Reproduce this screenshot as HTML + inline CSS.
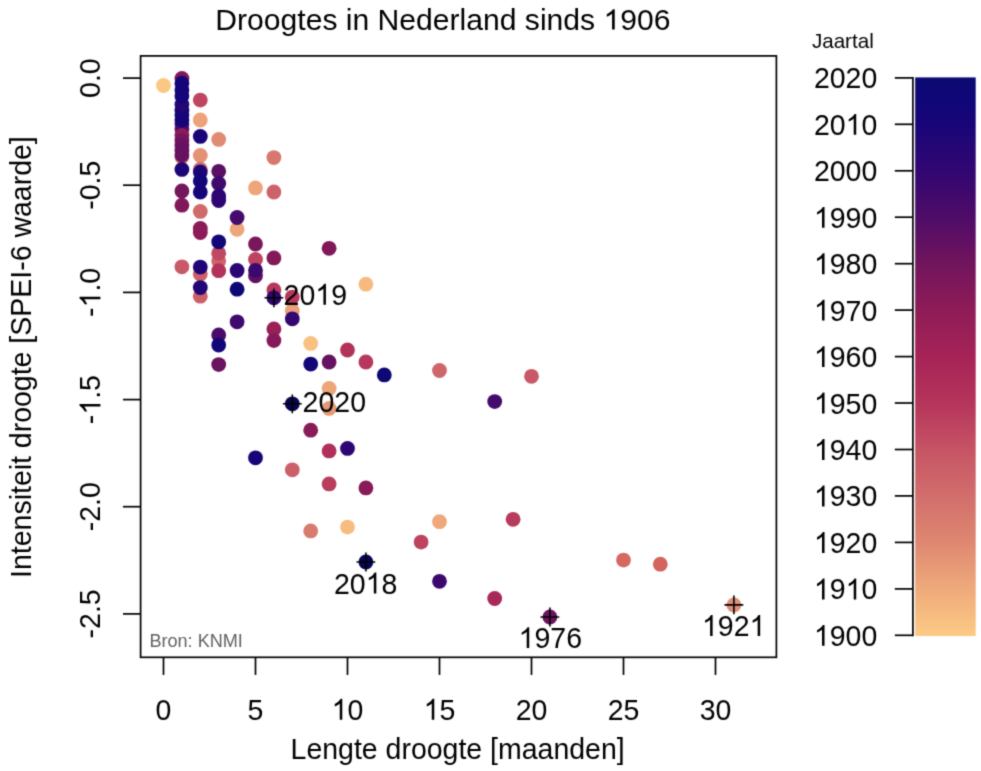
<!DOCTYPE html>
<html><head><meta charset="utf-8"><title>Droogtes in Nederland sinds 1906</title>
<style>html,body{margin:0;padding:0;background:#fff}body{width:981px;height:771px;overflow:hidden;font-family:"Liberation Sans",sans-serif}</style></head>
<body>
<svg width="981" height="771" viewBox="0 0 981 771" style="display:block">
<defs><filter id="soft" x="0" y="0" width="981" height="771" filterUnits="userSpaceOnUse" color-interpolation-filters="sRGB"><feConvolveMatrix order="3" kernelMatrix="0.02560 0.10880 0.02560 0.10880 0.46240 0.10880 0.02560 0.10880 0.02560" edgeMode="duplicate" preserveAlpha="true"/></filter></defs>
<g filter="url(#soft)">
<rect width="981" height="771" fill="#fff"/>
<g font-family="Liberation Sans, sans-serif" fill="#000">
<g transform="translate(442.9 29.6) scale(1 0.96)"><text x="-227.57" font-size="30.1">Droogtes in Nederland sinds</text><g transform="translate(160.60 0)"><path transform="translate(0.00 0) scale(0.01470 -0.01448)" d="M763 0H583V1147Q518 1085 412.5 1023Q307 961 223 930V1104Q374 1175 487 1276Q600 1377 647 1472H763Z"/><text x="16.74" font-size="30.1">906</text></g></g>
<g>
<circle cx="163.5" cy="85.5" r="7.4" fill="#fcc783"/>
<circle cx="181.9" cy="78.5" r="7.4" fill="#80185a"/>
<circle cx="181.9" cy="129.0" r="7.4" fill="#601062"/>
<circle cx="181.9" cy="124.0" r="7.4" fill="#460a6b"/>
<circle cx="181.9" cy="120.0" r="7.4" fill="#150578"/>
<circle cx="181.9" cy="115.0" r="7.4" fill="#150578"/>
<circle cx="181.9" cy="110.5" r="7.4" fill="#180578"/>
<circle cx="181.9" cy="104.5" r="7.4" fill="#250675"/>
<circle cx="181.9" cy="83.2" r="7.4" fill="#150578"/>
<circle cx="181.9" cy="90.0" r="7.4" fill="#120678"/>
<circle cx="181.9" cy="96.0" r="7.4" fill="#150578"/>
<circle cx="181.9" cy="157.0" r="7.4" fill="#da7e6f"/>
<circle cx="181.9" cy="135.5" r="7.4" fill="#8c1b58"/>
<circle cx="181.9" cy="140.5" r="7.4" fill="#77165c"/>
<circle cx="181.9" cy="145.5" r="7.4" fill="#6a135f"/>
<circle cx="181.9" cy="150.5" r="7.4" fill="#661260"/>
<circle cx="181.9" cy="155.0" r="7.4" fill="#661260"/>
<circle cx="181.9" cy="169.4" r="7.4" fill="#1c0577"/>
<circle cx="181.9" cy="191.0" r="7.4" fill="#74165c"/>
<circle cx="181.9" cy="205.2" r="7.4" fill="#80185a"/>
<circle cx="181.9" cy="266.8" r="7.4" fill="#c85966"/>
<circle cx="200.3" cy="100.1" r="7.4" fill="#be4660"/>
<circle cx="200.3" cy="120.0" r="7.4" fill="#eca379"/>
<circle cx="200.3" cy="136.4" r="7.4" fill="#190578"/>
<circle cx="200.3" cy="155.5" r="7.4" fill="#e49274"/>
<circle cx="200.3" cy="169.2" r="7.4" fill="#d3716c"/>
<circle cx="200.3" cy="172.0" r="7.4" fill="#1e0576"/>
<circle cx="200.3" cy="181.0" r="7.4" fill="#130678"/>
<circle cx="200.3" cy="192.0" r="7.4" fill="#160578"/>
<circle cx="200.3" cy="211.4" r="7.4" fill="#d06a6b"/>
<circle cx="200.3" cy="228.4" r="7.4" fill="#891b58"/>
<circle cx="200.3" cy="232.6" r="7.4" fill="#8c1b58"/>
<circle cx="200.3" cy="274.0" r="7.4" fill="#cb6068"/>
<circle cx="200.3" cy="267.1" r="7.4" fill="#210576"/>
<circle cx="200.3" cy="296.2" r="7.4" fill="#cb6068"/>
<circle cx="200.3" cy="287.6" r="7.4" fill="#220576"/>
<circle cx="218.7" cy="139.4" r="7.4" fill="#e18b72"/>
<circle cx="218.7" cy="171.3" r="7.4" fill="#5a0f64"/>
<circle cx="218.7" cy="183.4" r="7.4" fill="#3f096e"/>
<circle cx="218.7" cy="196.0" r="7.4" fill="#290674"/>
<circle cx="218.7" cy="200.6" r="7.4" fill="#2e0673"/>
<circle cx="218.7" cy="261.0" r="7.4" fill="#ce6569"/>
<circle cx="218.7" cy="270.7" r="7.4" fill="#b3325a"/>
<circle cx="218.7" cy="253.2" r="7.4" fill="#c04961"/>
<circle cx="218.7" cy="241.8" r="7.4" fill="#130678"/>
<circle cx="218.7" cy="335.0" r="7.4" fill="#4a0b6a"/>
<circle cx="218.7" cy="345.1" r="7.4" fill="#130678"/>
<circle cx="218.7" cy="364.6" r="7.4" fill="#6a135f"/>
<circle cx="237.1" cy="229.3" r="7.4" fill="#eda57a"/>
<circle cx="237.1" cy="217.5" r="7.4" fill="#440a6c"/>
<circle cx="237.1" cy="270.5" r="7.4" fill="#290674"/>
<circle cx="237.1" cy="289.2" r="7.4" fill="#0e0875"/>
<circle cx="237.1" cy="321.8" r="7.4" fill="#3f096e"/>
<circle cx="255.5" cy="187.9" r="7.4" fill="#eda57a"/>
<circle cx="255.5" cy="244.0" r="7.4" fill="#7a175b"/>
<circle cx="255.5" cy="259.4" r="7.4" fill="#bd435f"/>
<circle cx="255.5" cy="275.8" r="7.4" fill="#601062"/>
<circle cx="255.5" cy="270.3" r="7.4" fill="#3a086f"/>
<circle cx="255.5" cy="457.8" r="7.4" fill="#160578"/>
<circle cx="273.9" cy="157.6" r="7.4" fill="#d7786e"/>
<circle cx="273.9" cy="192.0" r="7.4" fill="#cd6268"/>
<circle cx="273.9" cy="257.9" r="7.4" fill="#831959"/>
<circle cx="273.9" cy="290.0" r="7.4" fill="#b7385c"/>
<circle cx="273.9" cy="297.8" r="7.4" fill="#2d0668"/>
<circle cx="273.9" cy="328.9" r="7.4" fill="#981f57"/>
<circle cx="273.9" cy="340.6" r="7.4" fill="#861a59"/>
<circle cx="292.3" cy="297.1" r="7.4" fill="#b7385c"/>
<circle cx="292.3" cy="310.8" r="7.4" fill="#eaa078"/>
<circle cx="292.3" cy="318.8" r="7.4" fill="#350771"/>
<circle cx="292.3" cy="403.8" r="7.4" fill="#070453"/>
<circle cx="292.3" cy="469.8" r="7.4" fill="#cb6068"/>
<circle cx="310.7" cy="343.4" r="7.4" fill="#f9c081"/>
<circle cx="310.7" cy="364.1" r="7.4" fill="#130678"/>
<circle cx="310.7" cy="430.2" r="7.4" fill="#891b58"/>
<circle cx="310.7" cy="530.9" r="7.4" fill="#d87b6e"/>
<circle cx="329.1" cy="248.3" r="7.4" fill="#80185a"/>
<circle cx="329.1" cy="362.0" r="7.4" fill="#661260"/>
<circle cx="329.1" cy="388.4" r="7.4" fill="#eda57a"/>
<circle cx="329.1" cy="408.4" r="7.4" fill="#e79976"/>
<circle cx="329.1" cy="450.9" r="7.4" fill="#b0305a"/>
<circle cx="329.1" cy="483.9" r="7.4" fill="#b93d5d"/>
<circle cx="347.5" cy="350.0" r="7.4" fill="#b3325a"/>
<circle cx="347.5" cy="448.4" r="7.4" fill="#2e0673"/>
<circle cx="347.5" cy="527.1" r="7.4" fill="#f7bd80"/>
<circle cx="365.9" cy="284.2" r="7.4" fill="#f6ba80"/>
<circle cx="365.9" cy="362.0" r="7.4" fill="#b7385c"/>
<circle cx="365.9" cy="487.9" r="7.4" fill="#891b58"/>
<circle cx="365.9" cy="562.0" r="7.4" fill="#070553"/>
<circle cx="384.3" cy="374.9" r="7.4" fill="#0e0875"/>
<circle cx="421.1" cy="542.1" r="7.4" fill="#bd435f"/>
<circle cx="439.5" cy="370.5" r="7.4" fill="#ce6569"/>
<circle cx="439.5" cy="521.7" r="7.4" fill="#eea87a"/>
<circle cx="439.5" cy="581.3" r="7.4" fill="#3d086e"/>
<circle cx="494.7" cy="401.6" r="7.4" fill="#440a6c"/>
<circle cx="494.7" cy="598.5" r="7.4" fill="#aa2858"/>
<circle cx="513.1" cy="519.3" r="7.4" fill="#b83a5c"/>
<circle cx="531.5" cy="376.3" r="7.4" fill="#c85966"/>
<circle cx="549.9" cy="617.0" r="7.4" fill="#6c145f"/>
<circle cx="623.5" cy="560.1" r="7.4" fill="#d5695f"/>
<circle cx="660.3" cy="564.2" r="7.4" fill="#d3645e"/>
<circle cx="733.9" cy="604.9" r="7.4" fill="#dd9079"/>
</g>
<rect x="140.6" y="55.9" width="635.8" height="601.4" fill="none" stroke="#000" stroke-width="1.7"/>
<g stroke="#000" stroke-width="1.7" fill="none">
<path d="M163.5 657.3V674.9"/>
<path d="M255.5 657.3V674.9"/>
<path d="M347.5 657.3V674.9"/>
<path d="M439.5 657.3V674.9"/>
<path d="M531.5 657.3V674.9"/>
<path d="M623.5 657.3V674.9"/>
<path d="M715.5 657.3V674.9"/>
<path d="M140.6 78.1H123.0"/>
<path d="M140.6 185.2H123.0"/>
<path d="M140.6 292.4H123.0"/>
<path d="M140.6 399.6H123.0"/>
<path d="M140.6 506.7H123.0"/>
<path d="M140.6 613.9H123.0"/>
</g>
<g transform="translate(163.5 719.7) scale(1 1.035)"><text x="-7.93" font-size="28.5">0</text></g>
<g transform="translate(255.5 719.7) scale(1 1.035)"><text x="-7.93" font-size="28.5">5</text></g>
<g transform="translate(347.5 719.7) scale(1 1.035)"><path transform="translate(-15.85 0) scale(0.01392 -0.01371)" d="M763 0H583V1147Q518 1085 412.5 1023Q307 961 223 930V1104Q374 1175 487 1276Q600 1377 647 1472H763Z"/><text x="0.00" font-size="28.5">0</text></g>
<g transform="translate(439.5 719.7) scale(1 1.035)"><path transform="translate(-15.85 0) scale(0.01392 -0.01371)" d="M763 0H583V1147Q518 1085 412.5 1023Q307 961 223 930V1104Q374 1175 487 1276Q600 1377 647 1472H763Z"/><text x="0.00" font-size="28.5">5</text></g>
<g transform="translate(531.5 719.7) scale(1 1.035)"><text x="-15.85" font-size="28.5">20</text></g>
<g transform="translate(623.5 719.7) scale(1 1.035)"><text x="-15.85" font-size="28.5">25</text></g>
<g transform="translate(715.5 719.7) scale(1 1.035)"><text x="-15.85" font-size="28.5">30</text></g>
<g transform="translate(100.4 78.1) rotate(-90) scale(1 1.035)"><text x="-19.81" font-size="28.5">0.0</text></g>
<g transform="translate(100.4 185.2) rotate(-90) scale(1 1.035)"><text x="-24.55" font-size="28.5">-0.5</text></g>
<g transform="translate(100.4 292.4) rotate(-90) scale(1 1.035)"><text x="-24.55" font-size="28.5">-</text><path transform="translate(-15.06 0) scale(0.01392 -0.01371)" d="M763 0H583V1147Q518 1085 412.5 1023Q307 961 223 930V1104Q374 1175 487 1276Q600 1377 647 1472H763Z"/><text x="0.79" font-size="28.5">.0</text></g>
<g transform="translate(100.4 399.6) rotate(-90) scale(1 1.035)"><text x="-24.55" font-size="28.5">-</text><path transform="translate(-15.06 0) scale(0.01392 -0.01371)" d="M763 0H583V1147Q518 1085 412.5 1023Q307 961 223 930V1104Q374 1175 487 1276Q600 1377 647 1472H763Z"/><text x="0.79" font-size="28.5">.5</text></g>
<g transform="translate(100.4 506.7) rotate(-90) scale(1 1.035)"><text x="-24.55" font-size="28.5">-2.0</text></g>
<g transform="translate(100.4 613.9) rotate(-90) scale(1 1.035)"><text x="-24.55" font-size="28.5">-2.5</text></g>
<text transform="translate(457.6 759) scale(1 1.02)" font-size="28.5" text-anchor="middle">Lengte droogte [maanden]</text>
<text transform="translate(30.5 357.1) rotate(-90) scale(1 1.02)" font-size="28.5" text-anchor="middle">Intensiteit droogte [SPEI-6 waarde]</text>
<text transform="translate(149.4 646.7) scale(1 1.02)" font-size="18.1" fill="#626262">Bron: KNMI</text>
<path d="M264.5 297.8h18.8M273.9 288.4v18.8" stroke="#000" stroke-width="1.6" fill="none"/>
<path d="M282.9 403.8h18.8M292.3 394.4v18.8" stroke="#000" stroke-width="1.6" fill="none"/>
<path d="M356.5 562.0h18.8M365.9 552.6v18.8" stroke="#000" stroke-width="1.6" fill="none"/>
<path d="M540.5 617.0h18.8M549.9 607.6v18.8" stroke="#000" stroke-width="1.6" fill="none"/>
<path d="M724.5 604.9h18.8M733.9 595.5v18.8" stroke="#000" stroke-width="1.6" fill="none"/>
<g transform="translate(283.6 304.7) scale(1 1.035)"><text x="0.00" font-size="28.5">20</text><path transform="translate(31.70 0) scale(0.01392 -0.01371)" d="M763 0H583V1147Q518 1085 412.5 1023Q307 961 223 930V1104Q374 1175 487 1276Q600 1377 647 1472H763Z"/><text x="47.55" font-size="28.5">9</text></g>
<g transform="translate(302.6 411.5) scale(1 1.035)"><text x="0.00" font-size="28.5">2020</text></g>
<g transform="translate(365.7 593.5) scale(1 1.035)"><text x="-31.70" font-size="28.5">20</text><path transform="translate(0.00 0) scale(0.01392 -0.01371)" d="M763 0H583V1147Q518 1085 412.5 1023Q307 961 223 930V1104Q374 1175 487 1276Q600 1377 647 1472H763Z"/><text x="15.85" font-size="28.5">8</text></g>
<g transform="translate(550.3 648.1) scale(1 1.035)"><path transform="translate(-31.70 0) scale(0.01392 -0.01371)" d="M763 0H583V1147Q518 1085 412.5 1023Q307 961 223 930V1104Q374 1175 487 1276Q600 1377 647 1472H763Z"/><text x="-15.85" font-size="28.5">976</text></g>
<g transform="translate(733.7 636.0) scale(1 1.035)"><path transform="translate(-31.70 0) scale(0.01392 -0.01371)" d="M763 0H583V1147Q518 1085 412.5 1023Q307 961 223 930V1104Q374 1175 487 1276Q600 1377 647 1472H763Z"/><text x="-15.85" font-size="28.5">92</text><path transform="translate(15.85 0) scale(0.01392 -0.01371)" d="M763 0H583V1147Q518 1085 412.5 1023Q307 961 223 930V1104Q374 1175 487 1276Q600 1377 647 1472H763Z"/></g>
<text transform="translate(811.9 47.9) scale(1 1.02)" font-size="20.6">Jaartal</text>
<defs><linearGradient id="cb" x1="0" y1="0" x2="0" y2="1"><stop offset="0.0000" stop-color="#0b0a72"/><stop offset="0.0417" stop-color="#100678"/><stop offset="0.0833" stop-color="#180578"/><stop offset="0.1250" stop-color="#250675"/><stop offset="0.1667" stop-color="#320672"/><stop offset="0.2083" stop-color="#40096d"/><stop offset="0.2500" stop-color="#4e0c68"/><stop offset="0.2917" stop-color="#601062"/><stop offset="0.3333" stop-color="#71155d"/><stop offset="0.3750" stop-color="#80185a"/><stop offset="0.4167" stop-color="#8f1c57"/><stop offset="0.4583" stop-color="#9a2057"/><stop offset="0.5000" stop-color="#a62357"/><stop offset="0.5417" stop-color="#ae2c59"/><stop offset="0.5833" stop-color="#b5355b"/><stop offset="0.6250" stop-color="#be4460"/><stop offset="0.6667" stop-color="#c65464"/><stop offset="0.7083" stop-color="#cc6168"/><stop offset="0.7500" stop-color="#d26e6c"/><stop offset="0.7917" stop-color="#d87b6e"/><stop offset="0.8333" stop-color="#df8871"/><stop offset="0.8750" stop-color="#e79976"/><stop offset="0.9167" stop-color="#efaa7b"/><stop offset="0.9583" stop-color="#f6ba80"/><stop offset="1.0000" stop-color="#fdca84"/></linearGradient></defs>
<rect x="915.2" y="77.4" width="60.5" height="558.6" fill="url(#cb)"/>
<g stroke="#000" stroke-width="1.7" fill="none">
<path d="M912.9 77.05V636.15"/>
<path d="M912.9 77.9H894.8"/>
<path d="M912.9 124.3H894.8"/>
<path d="M912.9 170.8H894.8"/>
<path d="M912.9 217.2H894.8"/>
<path d="M912.9 263.7H894.8"/>
<path d="M912.9 310.1H894.8"/>
<path d="M912.9 356.6H894.8"/>
<path d="M912.9 403.0H894.8"/>
<path d="M912.9 449.5H894.8"/>
<path d="M912.9 495.9H894.8"/>
<path d="M912.9 542.4H894.8"/>
<path d="M912.9 588.9H894.8"/>
<path d="M912.9 635.3H894.8"/>
</g>
<g transform="translate(877.3 88.4) scale(1 1.035)"><text x="-63.40" font-size="28.5">2020</text></g>
<g transform="translate(877.3 134.8) scale(1 1.035)"><text x="-63.40" font-size="28.5">20</text><path transform="translate(-31.70 0) scale(0.01392 -0.01371)" d="M763 0H583V1147Q518 1085 412.5 1023Q307 961 223 930V1104Q374 1175 487 1276Q600 1377 647 1472H763Z"/><text x="-15.85" font-size="28.5">0</text></g>
<g transform="translate(877.3 181.3) scale(1 1.035)"><text x="-63.40" font-size="28.5">2000</text></g>
<g transform="translate(877.3 227.8) scale(1 1.035)"><path transform="translate(-63.40 0) scale(0.01392 -0.01371)" d="M763 0H583V1147Q518 1085 412.5 1023Q307 961 223 930V1104Q374 1175 487 1276Q600 1377 647 1472H763Z"/><text x="-47.55" font-size="28.5">990</text></g>
<g transform="translate(877.3 274.2) scale(1 1.035)"><path transform="translate(-63.40 0) scale(0.01392 -0.01371)" d="M763 0H583V1147Q518 1085 412.5 1023Q307 961 223 930V1104Q374 1175 487 1276Q600 1377 647 1472H763Z"/><text x="-47.55" font-size="28.5">980</text></g>
<g transform="translate(877.3 320.6) scale(1 1.035)"><path transform="translate(-63.40 0) scale(0.01392 -0.01371)" d="M763 0H583V1147Q518 1085 412.5 1023Q307 961 223 930V1104Q374 1175 487 1276Q600 1377 647 1472H763Z"/><text x="-47.55" font-size="28.5">970</text></g>
<g transform="translate(877.3 367.1) scale(1 1.035)"><path transform="translate(-63.40 0) scale(0.01392 -0.01371)" d="M763 0H583V1147Q518 1085 412.5 1023Q307 961 223 930V1104Q374 1175 487 1276Q600 1377 647 1472H763Z"/><text x="-47.55" font-size="28.5">960</text></g>
<g transform="translate(877.3 413.5) scale(1 1.035)"><path transform="translate(-63.40 0) scale(0.01392 -0.01371)" d="M763 0H583V1147Q518 1085 412.5 1023Q307 961 223 930V1104Q374 1175 487 1276Q600 1377 647 1472H763Z"/><text x="-47.55" font-size="28.5">950</text></g>
<g transform="translate(877.3 460.0) scale(1 1.035)"><path transform="translate(-63.40 0) scale(0.01392 -0.01371)" d="M763 0H583V1147Q518 1085 412.5 1023Q307 961 223 930V1104Q374 1175 487 1276Q600 1377 647 1472H763Z"/><text x="-47.55" font-size="28.5">940</text></g>
<g transform="translate(877.3 506.4) scale(1 1.035)"><path transform="translate(-63.40 0) scale(0.01392 -0.01371)" d="M763 0H583V1147Q518 1085 412.5 1023Q307 961 223 930V1104Q374 1175 487 1276Q600 1377 647 1472H763Z"/><text x="-47.55" font-size="28.5">930</text></g>
<g transform="translate(877.3 552.9) scale(1 1.035)"><path transform="translate(-63.40 0) scale(0.01392 -0.01371)" d="M763 0H583V1147Q518 1085 412.5 1023Q307 961 223 930V1104Q374 1175 487 1276Q600 1377 647 1472H763Z"/><text x="-47.55" font-size="28.5">920</text></g>
<g transform="translate(877.3 599.4) scale(1 1.035)"><path transform="translate(-63.40 0) scale(0.01392 -0.01371)" d="M763 0H583V1147Q518 1085 412.5 1023Q307 961 223 930V1104Q374 1175 487 1276Q600 1377 647 1472H763Z"/><text x="-47.55" font-size="28.5">9</text><path transform="translate(-31.70 0) scale(0.01392 -0.01371)" d="M763 0H583V1147Q518 1085 412.5 1023Q307 961 223 930V1104Q374 1175 487 1276Q600 1377 647 1472H763Z"/><text x="-15.85" font-size="28.5">0</text></g>
<g transform="translate(877.3 645.8) scale(1 1.035)"><path transform="translate(-63.40 0) scale(0.01392 -0.01371)" d="M763 0H583V1147Q518 1085 412.5 1023Q307 961 223 930V1104Q374 1175 487 1276Q600 1377 647 1472H763Z"/><text x="-47.55" font-size="28.5">900</text></g>
</g></g></svg>
</body></html>
